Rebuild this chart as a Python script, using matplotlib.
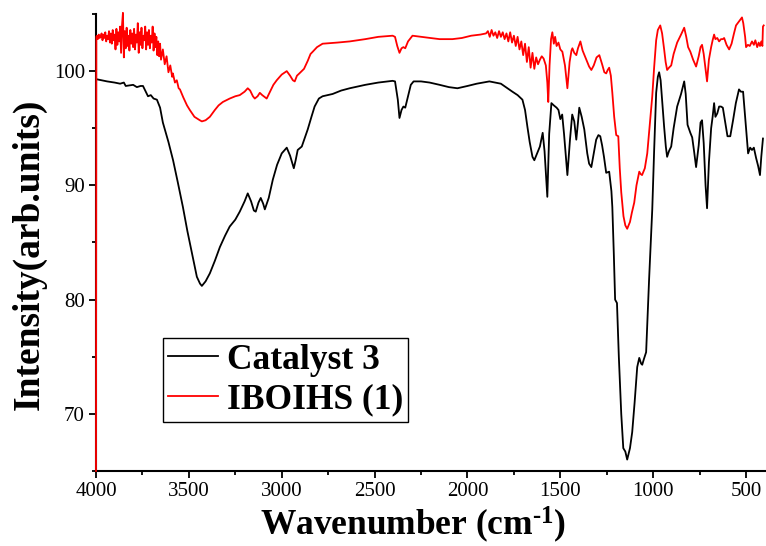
import matplotlib
matplotlib.use("Agg")
import matplotlib.pyplot as plt
from matplotlib.ticker import MultipleLocator, FixedLocator

# ---------------- data ----------------
cat_wn = [4000, 3970, 3940, 3900, 3870, 3850, 3840, 3800, 3780, 3760, 3747, 3735, 3720, 3705,
          3690, 3672, 3655, 3640, 3610, 3585, 3560, 3532, 3508, 3484, 3457, 3440, 3430, 3410,
          3387, 3360, 3333, 3305, 3280, 3250, 3226, 3200, 3183, 3165, 3150, 3140, 3125, 3113,
          3100, 3091, 3070, 3048, 3025, 3000, 2973, 2955, 2935, 2925, 2914, 2892, 2875, 2860,
          2840, 2823, 2800, 2780, 2726, 2680, 2634, 2550, 2480, 2403, 2390, 2375, 2366, 2355,
          2345, 2335, 2320, 2305, 2290, 2250, 2204, 2150, 2100, 2054, 2000, 1950, 1882, 1820,
          1758, 1730, 1704, 1690, 1677, 1665, 1650, 1640, 1625, 1610, 1595, 1585, 1570, 1560,
          1548, 1535, 1520, 1510, 1500, 1490, 1480, 1462, 1448, 1436, 1425, 1414, 1405, 1398,
          1385, 1371, 1355, 1345, 1333, 1320, 1307, 1295, 1285, 1275, 1265, 1253, 1237, 1225,
          1220, 1212, 1205, 1195, 1185, 1172, 1161, 1150, 1140, 1125, 1113, 1100, 1086, 1075,
          1065, 1059, 1050, 1038, 1022, 1010, 1005, 995, 984, 975, 968, 960, 950, 941, 932, 925,
          915, 903, 890, 871, 850, 833, 825, 815, 800, 790, 780, 769, 755, 745, 737, 728, 718,
          710, 700, 688, 680, 672, 665, 655, 645, 635, 625, 612, 600, 585, 570, 555, 538, 528,
          516, 505, 489, 478, 468, 458, 446, 435, 425, 418, 409]
cat_val = [99.3, 99.2, 99.1, 99.0, 98.9, 99.0, 98.7, 98.8, 98.6, 98.7, 98.7, 98.3, 97.8, 97.9,
           97.6, 97.5, 96.8, 95.5, 93.8, 92.2, 90.3, 88.1, 86.0, 84.1, 82.0, 81.4, 81.2, 81.6,
           82.3, 83.4, 84.6, 85.6, 86.4, 87.0, 87.7, 88.6, 89.3, 88.6, 87.8, 87.7, 88.5, 88.9,
           88.4, 87.9, 88.9, 90.5, 91.8, 92.8, 93.3, 92.6, 91.5, 92.2, 93.1, 93.4, 94.2, 94.9,
           96.0, 96.9, 97.6, 97.8, 98.0, 98.3, 98.5, 98.8, 99.0, 99.15, 99.1, 97.5, 95.9, 96.6,
           96.9, 96.8, 97.8, 98.8, 99.1, 99.1, 99.0, 98.8, 98.6, 98.5, 98.7, 98.9, 99.1, 98.9,
           98.2, 97.9, 97.5, 96.6, 95.1, 93.8, 92.5, 92.2, 92.8, 93.4, 94.6, 93.0, 89.0, 94.5,
           97.2, 97.0, 96.8, 96.6, 95.8, 96.2, 94.5, 90.9, 94.0, 96.2, 95.6, 94.0, 95.5, 96.8,
           96.0, 94.9, 92.8, 91.9, 91.6, 92.8, 94.0, 94.4, 94.3, 93.5, 92.5, 91.1, 91.2, 89.5,
           88.1, 84.0, 80.0, 79.7, 75.0, 70.0, 67.0, 66.7, 66.0, 67.0, 68.4, 71.0, 74.1, 74.9,
           74.4, 74.3, 74.8, 75.4, 81.8, 86.0, 87.9, 93.0, 98.1, 99.5, 99.9, 99.2, 97.0, 95.1,
           93.4, 92.5, 93.0, 93.4, 95.0, 96.9, 98.0, 99.1, 98.0, 95.3, 94.6, 94.2, 93.0, 91.6,
           93.5, 95.5, 95.7, 93.7, 90.0, 88.0, 92.0, 95.0, 96.0, 97.2, 96.0, 96.3, 96.9, 96.9,
           96.8, 95.5, 94.3, 94.3, 95.7, 97.2, 98.4, 98.2, 98.2, 96.0, 92.8, 93.3, 93.1, 93.3,
           92.4, 91.7, 90.9, 92.5, 94.1]

ibo_wn = [4000, 3998, 3995, 3990, 3985, 3980, 3975, 3970, 3965, 3960, 3955, 3950, 3945, 3940,
          3935, 3930, 3925, 3920, 3915, 3910, 3905, 3900, 3895, 3890, 3885, 3880, 3875, 3870,
          3865, 3860, 3855, 3850, 3845, 3840, 3835, 3830, 3825, 3820, 3815, 3810, 3805, 3800,
          3795, 3790, 3785, 3780, 3775, 3770, 3765, 3760, 3755, 3750, 3745, 3740, 3735, 3730,
          3725, 3720, 3715, 3710, 3705, 3700, 3695, 3690, 3685, 3680, 3675, 3670, 3665, 3660,
          3655, 3650, 3640, 3630, 3620, 3610, 3600, 3590, 3586, 3575, 3565, 3555, 3548, 3530,
          3510, 3495, 3470, 3441, 3430, 3410, 3387, 3360, 3340, 3317, 3280, 3250, 3226, 3200,
          3183, 3170, 3155, 3145, 3130, 3118, 3105, 3081, 3060, 3045, 3027, 3000, 2973, 2955,
          2940, 2930, 2918, 2905, 2880, 2860, 2845, 2833, 2810, 2780, 2700, 2634, 2550, 2480,
          2403, 2390, 2378, 2366, 2355, 2345, 2335, 2320, 2296, 2250, 2200, 2150, 2081, 2030,
          1980, 1930, 1900, 1890, 1880, 1870, 1860, 1850, 1840, 1830, 1820, 1810, 1800, 1790,
          1780, 1770, 1760, 1750, 1740, 1730, 1720, 1710, 1700, 1690, 1680, 1670, 1660, 1650,
          1640, 1630, 1620, 1610, 1600, 1590, 1578, 1570, 1565, 1558, 1550, 1543, 1535, 1528,
          1520, 1510, 1500, 1489, 1475, 1462, 1450, 1440, 1435, 1425, 1414, 1405, 1392, 1380,
          1370, 1360, 1345, 1333, 1320, 1305, 1290, 1275, 1263, 1253, 1245, 1237, 1228, 1220,
          1210, 1199, 1188, 1180, 1172, 1160, 1150, 1140, 1125, 1115, 1102, 1090, 1075, 1068,
          1060, 1045, 1032, 1020, 1005, 995, 984, 975, 962, 952, 941, 933, 925, 915, 903, 890,
          871, 850, 833, 822, 812, 800, 785, 769, 755, 745, 737, 728, 718, 710, 700, 688, 680,
          672, 665, 655, 645, 635, 625, 618, 605, 591, 578, 565, 554, 540, 530, 522, 515, 505,
          500, 490, 480, 468, 458, 450, 440, 432, 425, 418, 412, 409, 405]
ibo_val = [65.0, 103.0, 103.1, 102.8, 103.2, 102.9, 103.0, 103.3, 102.7, 103.2, 102.9, 103.4,
           102.6, 103.1, 102.8, 103.5, 102.5, 103.3, 102.4, 103.6, 102.7, 103.2, 101.9, 103.7,
           102.3, 103.4, 102.6, 103.9, 101.6, 104.0, 105.1, 101.2, 103.5, 102.0, 103.8, 102.2,
           103.1, 101.8, 103.6, 102.4, 103.3, 102.1, 103.7, 101.9, 103.2, 102.5, 104.2, 101.6,
           103.4, 102.3, 103.8, 102.0, 103.1, 102.7, 103.9, 101.9, 103.4, 102.3, 103.6, 102.0,
           103.1, 102.5, 103.9, 101.8, 103.3, 102.1, 103.0, 101.4, 102.6, 101.3, 102.4, 101.0,
           101.9, 100.6, 101.3, 99.9, 100.5, 99.5, 99.8, 99.0, 99.2, 98.5, 98.4, 97.7, 97.0,
           96.6, 96.0, 95.7, 95.6, 95.7, 96.0, 96.6, 97.0, 97.3, 97.6, 97.8, 97.9, 98.2, 98.5,
           98.3, 97.8, 97.6, 97.8, 98.1, 97.9, 97.6, 98.3, 98.8, 99.2, 99.7, 100.0, 99.6, 99.2,
           99.1, 99.6, 99.8, 100.2, 100.9, 101.5, 101.7, 102.1, 102.4, 102.5, 102.6, 102.8,
           103.0, 103.1, 103.0, 102.2, 101.6, 102.0, 102.1, 102.0, 102.6, 103.1, 103.0, 102.9,
           102.8, 102.8, 102.9, 103.1, 103.2, 103.3, 103.5, 103.0, 103.6, 103.1, 103.4, 102.9,
           103.5, 103.0, 103.4, 102.8, 103.3, 102.6, 103.4, 102.5, 103.1, 102.2, 103.0, 101.9,
           102.6, 101.4, 102.4, 100.8, 102.1, 100.3, 101.6, 100.2, 101.2, 100.6, 101.0, 101.3,
           101.1, 100.5, 99.0, 97.3, 100.5, 102.8, 103.4, 102.4, 103.0, 102.2, 102.5, 101.9,
           101.7, 100.5, 98.5, 100.8, 101.8, 102.0, 101.6, 101.4, 102.0, 102.6, 101.8, 101.4,
           101.0, 100.4, 100.1, 100.5, 101.2, 101.4, 100.6, 99.9, 99.8, 100.1, 100.3, 99.6,
           98.1, 96.0, 94.4, 94.3, 91.5, 89.4, 87.3, 86.5, 86.2, 86.8, 87.6, 88.5, 90.0, 91.2,
           91.0, 90.9, 91.5, 92.8, 95.0, 97.8, 100.3, 102.7, 103.6, 104.0, 103.3, 101.9, 100.8,
           100.1, 100.3, 100.5, 101.5, 102.5, 103.2, 103.8, 103.0, 102.1, 101.7, 101.0, 100.4,
           101.3, 102.1, 102.3, 101.5, 100.2, 99.1, 101.0, 102.1, 102.7, 103.2, 102.8, 102.9,
           102.6, 102.8, 102.8, 102.9, 102.3, 101.9, 102.4, 103.3, 104.0, 104.3, 104.5, 104.7,
           104.2, 103.0, 102.1, 102.3, 102.2, 102.6, 102.3, 102.7, 102.1, 102.5, 102.2, 102.6,
           102.2, 103.9, 104.0]

series_labels = ["Catalyst 3", "IBOIHS (1)"]
x_ticks = [4000, 3500, 3000, 2500, 2000, 1500, 1000, 500]
y_ticks = [70, 80, 90, 100]

# ---------------- style ----------------
plt.rcParams['font.family'] = ['Liberation Serif', 'DejaVu Serif']
plt.rcParams['mathtext.fontset'] = 'custom'
plt.rcParams['mathtext.rm'] = 'Liberation Serif:bold'
plt.rcParams['mathtext.default'] = 'rm'

fig = plt.figure(figsize=(7.66, 5.46), dpi=100)
ax = fig.add_axes([96/766, 1-471/546, (765-96)/766, (471-14)/546])

ax.plot(cat_wn, cat_val, color='black', lw=1.3, label=series_labels[0], zorder=3)
ax.plot(ibo_wn, ibo_val, color='#ff0000', lw=1.3, label=series_labels[1], zorder=3,
        clip_on=False)

ax.set_xlim(4000, 398)
ax.set_ylim(65, 105)
ax.xaxis.set_major_locator(FixedLocator(x_ticks))
ax.xaxis.set_minor_locator(MultipleLocator(250))
ax.yaxis.set_major_locator(FixedLocator(y_ticks))
ax.yaxis.set_minor_locator(MultipleLocator(5))

for s in ['top', 'right']:
    ax.spines[s].set_visible(False)
for s in ['left', 'bottom']:
    ax.spines[s].set_linewidth(1.5)

ax.tick_params(axis='both', which='major', direction='out', length=5, width=1.3,
               labelsize=15, pad=3)
ax.tick_params(axis='both', which='minor', direction='out', length=3, width=1.3)

ax.set_xlabel("Wavenumber (cm$^{\u2010 1}$)", fontsize=25.5, fontweight='bold')
ax.set_ylabel("Intensity(arb.units)", fontsize=27, fontweight='bold')
ax.xaxis.set_label_coords(0.4746, -0.073)
ax.yaxis.set_label_coords(-0.074, 0.475)

leg = ax.legend(loc='lower left', bbox_to_anchor=(0.1, 0.107), prop={'weight': 'bold', 'size': 25.5},
                frameon=True, fancybox=False, edgecolor='black', framealpha=1,
                handlelength=1.4, handletextpad=0.25, borderpad=0.15, labelspacing=0.2,
                borderaxespad=0)
leg.get_frame().set_linewidth(1.0)

fig.savefig("out.png", dpi=100)
